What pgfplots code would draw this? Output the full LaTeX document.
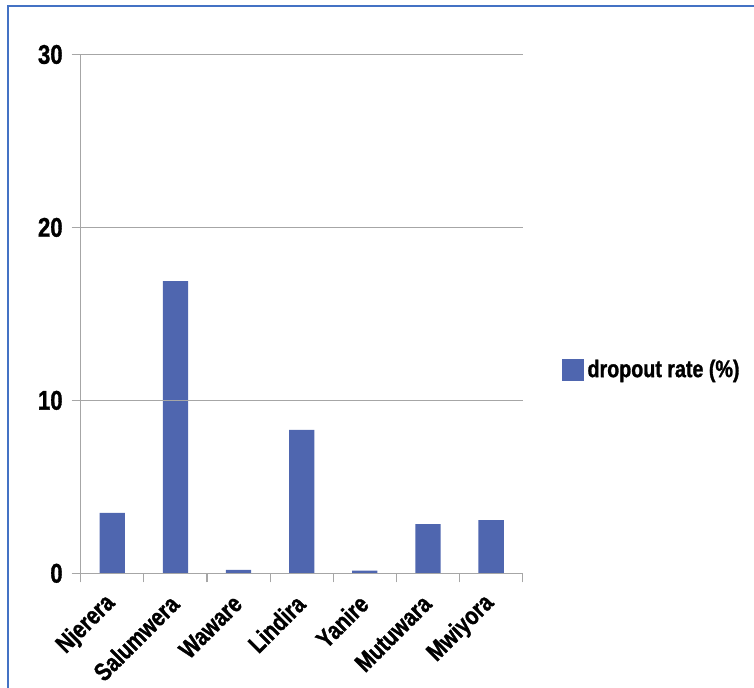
\documentclass[border=0pt]{standalone}
\usepackage{fontspec}
\setmainfont{Liberation Sans}[FakeStretch=0.82, FakeBold=1.2]
\usepackage{pgfplots}
\pgfplotsset{compat=1.18}
\definecolor{barblue}{HTML}{4F66AF}
\definecolor{frameblue}{HTML}{4472C4}
\definecolor{gridgray}{HTML}{A6A6A6}
\begin{document}
\begin{tikzpicture}
\useasboundingbox (0,0) rectangle (377pt,-344pt);
\draw[frameblue, line width=1pt] (4pt,-400pt) -- (4pt,-3pt) -- (400pt,-3pt);
\begin{axis}[
  at={(40.35pt,-286.65pt)}, anchor=south west,
  scale only axis, width=221pt, height=259.4pt,
  xmin=-0.5, xmax=6.5, ymin=0, ymax=30,
  ytick={0,10,20,30},
  axis x line*=bottom, axis y line*=left,
  axis line style={draw=gridgray, line width=0.6pt, -},
  ymajorgrids, grid style={gridgray, line width=0.6pt},
  tick style={draw=gridgray, line width=0.6pt},
  tick align=outside, major tick length=4.5pt,
  xtick={-0.5,0.5,...,6.5}, xticklabels={},
  extra x ticks={0,1,2,3,4,5,6},
  extra x tick labels={Njerera,Salumwera,Waware,Lindira,Yanire,Mutuwara,Mwiyora},
  extra x tick style={major tick length=0pt, tick style={draw=none},
    xticklabel style={rotate=45, anchor=east, inner sep=1pt, yshift=-9pt, xshift=-8.5pt,
      font=\bfseries\fontsize{12.5}{13}\selectfont}},
  yticklabel style={font=\bfseries\fontsize{13.5}{14}\selectfont, xshift=-1pt},
  /pgf/number format/assume math mode=true,
  ybar, bar width=0.4,
  axis on top,
  legend style={at={(1.087,0.392)}, anchor=west, draw=none, fill=none,
    font=\bfseries\fontsize{12}{13}\selectfont, inner sep=0pt},
  legend image code/.code={\fill[barblue] (0pt,-5.5pt) rectangle (11pt,5.5pt);},
]
\addplot[fill=barblue, draw=none] coordinates {(0,3.5) (1,16.9) (2,0.2) (3,8.3) (4,0.15) (5,2.85) (6,3.08)};
\addlegendentry{dropout rate (\%)}
\end{axis}
\end{tikzpicture}
\end{document}
